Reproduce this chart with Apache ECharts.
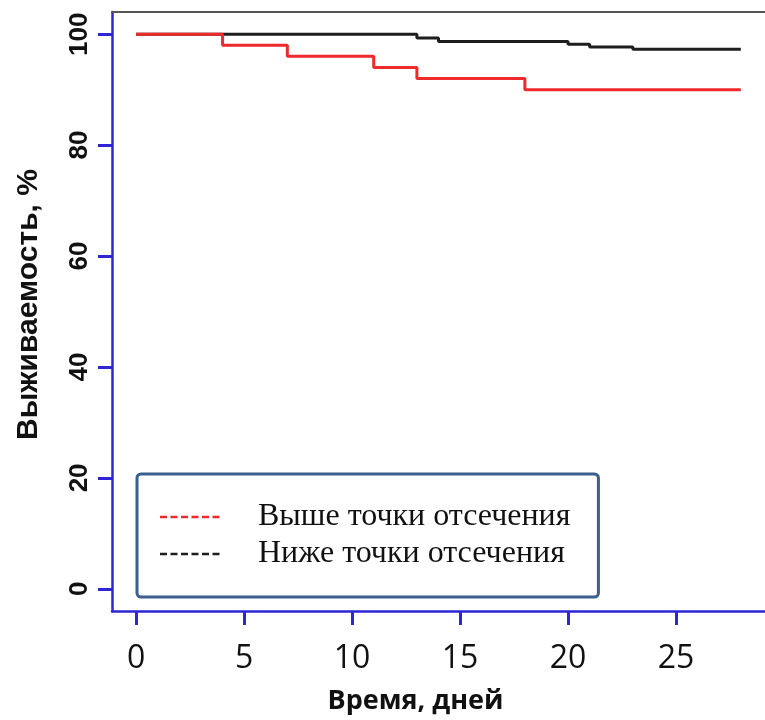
<!DOCTYPE html>
<html>
<head>
<meta charset="utf-8">
<script src="https://cdn.jsdelivr.net/npm/echarts@6/dist/echarts.min.js"></script>
<style>
html,body{margin:0;padding:0;background:#fff;}
#chart{width:765px;height:720px;}
</style>
</head>
<body>
<div id="chart"></div>
<script>
// Data
var seriesNames = ['Выше точки отсечения', 'Ниже точки отсечения'];
var timesHigh = [0, 4, 7, 11, 13, 18, 28];
var survHigh  = [100, 98, 96, 94, 92, 90, 90];
var timesLow  = [0, 13, 14, 20, 21, 23, 28];
var survLow   = [100, 99.3, 98.7, 98.2, 97.7, 97.3, 97.3];
var xTicks = [0, 5, 10, 15, 20, 25];
var yTicks = [0, 20, 40, 60, 80, 100];
var xTitle = 'Время, дней';
var yTitle = 'Выживаемость, %';

function pairs(xs, ys) { return xs.map(function (x, i) { return [x, ys[i]]; }); }

var blue = '#2f25d4';
var red = '#ee2a2a';
var black = '#1e1e1e';

// legend icon: six dashes followed by blank space
var dash = '';
for (var i = 0; i < 6; i++) { dash += 'M' + (i * 10.5) + ',0h7v2.5h-7z '; }
dash += 'M93,0h0.01v2.5h-0.01z';

var chart = echarts.init(document.getElementById('chart'), null, {renderer: 'canvas'});
chart.setOption({
  animation: false,
  backgroundColor: '#fff',
  grid: {left: 112, top: 12, width: 662, height: 601, containLabel: false},
  xAxis: [{
    type: 'value', min: -1.12, max: 29.12, position: 'bottom',
    name: xTitle, nameLocation: 'middle', nameGap: 77,
    nameTextStyle: {fontFamily: 'Open Sans', fontWeight: 'bold', fontSize: 27, color: '#111', padding: [0, 46, 0, 0]},
    axisLine: {onZero: false, lineStyle: {color: blue, width: 2.5}},
    axisTick: {customValues: xTicks, length: 14, lineStyle: {color: blue, width: 3}},
    axisLabel: {customValues: xTicks, margin: 32, fontFamily: 'Open Sans', fontSize: 32, color: '#111'},
    splitLine: {show: false}
  }, {
    type: 'value', min: -1.12, max: 29.12, position: 'top',
    axisLine: {onZero: false, lineStyle: {color: '#555', width: 2}},
    axisTick: {show: false}, axisLabel: {show: false}, splitLine: {show: false}
  }],
  yAxis: {
    type: 'value', min: -4, max: 104,
    name: yTitle, nameLocation: 'middle', nameGap: 68,
    nameTextStyle: {fontFamily: 'Liberation Sans', fontWeight: 'bold', fontSize: 30, color: '#111', padding: [0, 0, 0, 14]},
    axisLine: {onZero: false, lineStyle: {color: blue, width: 2.5}},
    axisTick: {customValues: yTicks, length: 14, lineStyle: {color: blue, width: 3}},
    axisLabel: {customValues: yTicks, rotate: 90, margin: 19, fontFamily: 'Liberation Sans', fontWeight: 'bold', fontSize: 26, color: '#111'},
    splitLine: {show: false}
  },
  legend: {
    data: seriesNames,
    orient: 'vertical', left: 137, top: 474,
    padding: [27, 28, 27, 23], itemGap: 5,
    itemWidth: 93, itemHeight: 2.5, icon: 'path://' + dash,
    itemStyle: {borderWidth: 0},
    textStyle: {fontFamily: 'Liberation Serif', fontSize: 32, color: '#111', lineHeight: 30},
    borderColor: '#3b5f8e', borderWidth: 3, borderRadius: 4, backgroundColor: '#fff',
    selectedMode: false
  },
  series: [{
    name: seriesNames[1], type: 'line', step: 'end', xAxisIndex: 0,
    data: pairs(timesLow, survLow), symbol: 'none', showSymbol: false,
    itemStyle: {color: black}, lineStyle: {color: black, width: 3}
  }, {
    name: seriesNames[0], type: 'line', step: 'end', xAxisIndex: 0,
    data: pairs(timesHigh, survHigh), symbol: 'none', showSymbol: false,
    itemStyle: {color: red}, lineStyle: {color: red, width: 3}
  }]
});
</script>
</body>
</html>
